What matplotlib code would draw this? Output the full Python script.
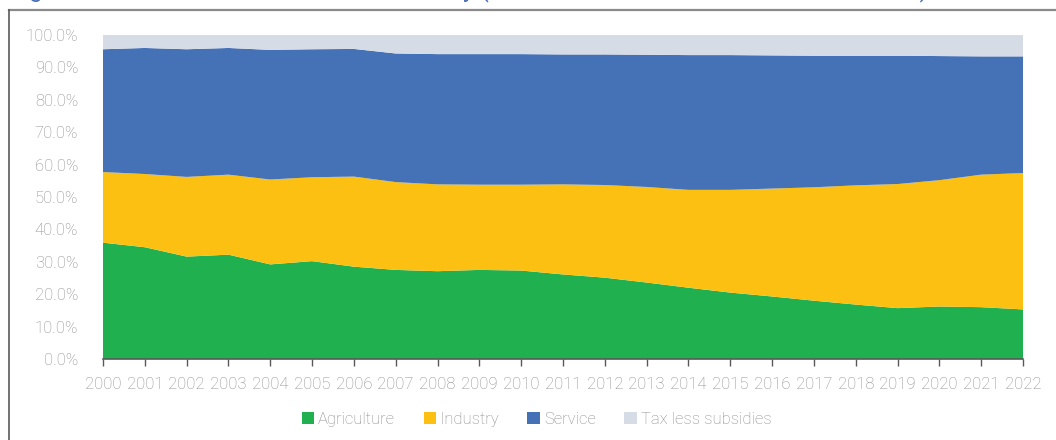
import numpy as np
import matplotlib
matplotlib.use("Agg")
import matplotlib.pyplot as plt
from matplotlib.lines import Line2D
from matplotlib.patches import Patch
from matplotlib.ticker import FuncFormatter

plt.rcParams['font.family'] = ['Roboto', 'DejaVu Sans']

years = list(range(2000, 2023))

# shares of value added, %
agriculture = [35.9, 34.5, 31.6, 32.2, 29.2, 30.2, 28.5, 27.5, 27.1, 27.5, 27.3, 26.1,
               25.1, 23.6, 22.0, 20.5, 19.3, 18.0, 16.8, 15.7, 16.2, 16.0, 15.3]
industry = [21.8, 22.6, 24.6, 24.7, 26.2, 25.9, 27.8, 27.1, 26.8, 26.3, 26.5, 27.8,
            28.6, 29.5, 30.2, 31.7, 33.3, 35.0, 36.8, 38.3, 39.0, 40.9, 42.1]
service = [37.9, 38.9, 39.4, 39.1, 40.0, 39.5, 39.4, 39.7, 40.2, 40.3, 40.3, 40.1,
           40.3, 40.8, 41.6, 41.6, 41.1, 40.6, 40.0, 39.6, 38.3, 36.5, 36.0]
tax_less_subsidies = [4.4, 4.0, 4.4, 4.0, 4.6, 4.4, 4.3, 5.7, 5.9, 5.9, 5.9, 6.0,
                      6.0, 6.1, 6.2, 6.2, 6.3, 6.4, 6.4, 6.4, 6.5, 6.6, 6.6]

labels = ["Agriculture", "Industry", "Service", "Tax less subsidies"]
colors = ["#21b04f", "#fbc012", "#4571b7", "#d6dce5"]
grey = "#8c8c8c"
fs = 12

fig = plt.figure(figsize=(10.56, 4.4), dpi=100)
ax = fig.add_axes([103 / 1056, 1 - 359 / 440, 920 / 1056, 324 / 440])

ax.stackplot(years, agriculture, industry, service, tax_less_subsidies,
             colors=colors, labels=labels, linewidth=0)

ax.set_xlim(2000, 2022)
ax.set_ylim(0, 100)
ax.set_xticks(years)
ax.set_yticks(np.arange(0, 101, 10))
ax.yaxis.set_major_formatter(FuncFormatter(lambda v, p: f"{v:.1f}%"))

for s in ["top", "right", "left"]:
    ax.spines[s].set_visible(False)
ax.spines["bottom"].set_color("#595959")
ax.spines["bottom"].set_linewidth(1.2)
ax.tick_params(axis="x", direction="out", length=5, width=1, color="#595959",
               labelsize=fs, labelcolor=grey, pad=8)
ax.tick_params(axis="y", length=0, labelsize=fs, labelcolor=grey, pad=18)
for t in ax.get_xticklabels() + ax.get_yticklabels():
    t.set_fontweight("light")

handles = [Patch(facecolor=c, edgecolor="none") for c in colors]
leg = fig.legend(handles, labels, loc="center", bbox_to_anchor=(0.508, 1 - 419 / 440),
                 ncol=4, frameon=False, fontsize=fs, handlelength=0.75,
                 handleheight=0.75, handletextpad=0.25, columnspacing=1.7)
for t in leg.get_texts():
    t.set_color(grey)
    t.set_fontweight("light")

# frame around the figure panel
fig.add_artist(Line2D([9 / 1056, 1], [1 - 10 / 440, 1 - 10 / 440], color="#8a8a8a", lw=1.6))
fig.add_artist(Line2D([9 / 1056, 9 / 1056], [0, 1 - 10 / 440], color="#5a5a5a", lw=1.2))

# caption sits above the panel and is cut by the top edge
fig.text(10 / 1056, 1 + 4 / 440,
         "Figure 3: Sectoral structure of the economy (share of sector in value added in GDP, %)",
         color="#4a6fb5", fontsize=17.5, va="baseline", ha="left")

fig.savefig("out.png", dpi=100)
